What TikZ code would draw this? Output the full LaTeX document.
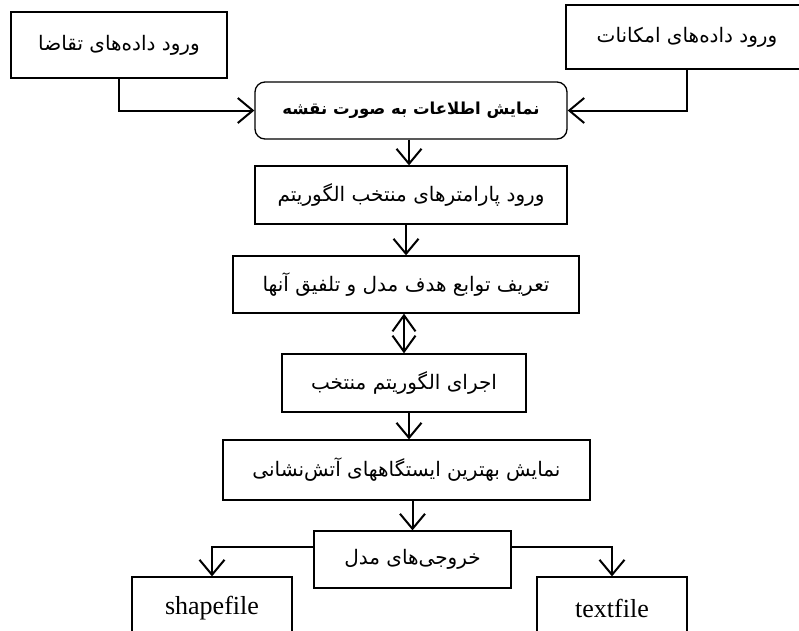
\documentclass[tikz,border=0pt]{standalone}
\usepackage{fontspec}
\setmainfont{Liberation Serif}
\newfontfamily\fafont[Script=Arabic]{DejaVu Sans}
\TeXXeTstate=1
\usetikzlibrary{arrows.meta}
\newcommand\fatext[1]{{\fafont\fontsize{20pt}{24pt}\selectfont\beginR #1\endR}}
\tikzset{
  box/.style={draw, line width=1.3pt, inner sep=0pt, fill=white},
  roundbox/.style={box, rounded corners=10pt},
  arr/.style={line width=2pt, -{Straight Barb[length=15pt,width=25pt,line width=2pt]}},
  dblarr/.style={line width=2pt, {Straight Barb[length=16pt,width=23pt,line width=2pt]}-{Straight Barb[length=16pt,width=23pt,line width=2pt]}},
  entext/.style={font=\fontsize{26pt}{30pt}\selectfont}
}
\begin{document}
\begin{tikzpicture}[x=1pt,y=-1pt]
\useasboundingbox (0,0) rectangle (799,630);
\fill[white] (0,0) rectangle (799,630);
\clip (0,0) rectangle (799,630);

\node[box, minimum width=216pt, minimum height=66pt] (dem) at (119,45) {\fatext{ورود داده^^^^200cهای تقاضا}};
\node[box, minimum width=242pt, minimum height=64pt] (fac) at (687,37) {\fatext{ورود داده^^^^200cهای امکانات}};
\node[roundbox, minimum width=312pt, minimum height=57pt] (map) at (411,110.5) {{\fafont\bfseries\fontsize{16.5pt}{20pt}\selectfont\beginR نمایش اطلاعات به صورت نقشه\endR}};
\node[box, minimum width=312pt, minimum height=58pt] (par) at (411,195) {\fatext{ورود پارامترهای منتخب الگوریتم}};
\node[box, minimum width=346pt, minimum height=57pt] (obj) at (406,284.5) {\fatext{تعریف توابع هدف مدل و تلفیق آنها}};
\node[box, minimum width=244pt, minimum height=58pt] (run) at (404,383) {\fatext{اجرای الگوریتم منتخب}};
\node[box, minimum width=367pt, minimum height=60pt] (best) at (406.5,470) {\fatext{نمایش بهترین ایستگاههای آتش^^^^200cنشانی}};
\node[box, minimum width=197pt, minimum height=57pt] (out) at (412.5,559.5) {\fatext{خروجی^^^^200cهای مدل}};
\node[box, entext, minimum width=160pt, minimum height=63pt] (shp) at (212,608.5) {shapefile};
\node[box, entext, minimum width=150pt, minimum height=63pt] (txt) at (612,608.5) {textfile};

\draw[arr] (dem.south) |- (map.west);
\draw[arr] (fac.south) |- (map.east);
\draw[arr] (map.south -| 409,0) -- (par.north -| 409,0);
\draw[arr] (par.south -| obj.north) -- (obj.north);
\draw[dblarr] (obj.south -| run.north) -- (run.north);
\draw[arr] (run.south -| 409,0) -- (best.north -| 409,0);
\draw[arr] (best.south -| out.north) -- (out.north);
\draw[arr] ([yshift=12.5pt]out.west) -| (shp.north);
\draw[arr] ([yshift=12.5pt]out.east) -| (txt.north);
\end{tikzpicture}
\end{document}
